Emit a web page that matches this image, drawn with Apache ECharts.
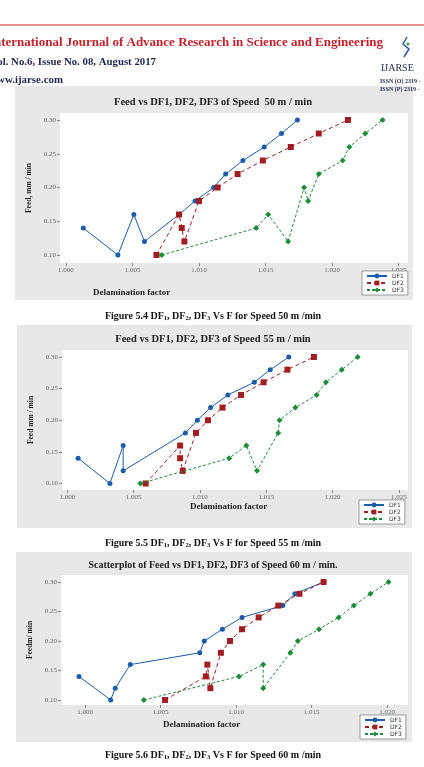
<!DOCTYPE html>
<html>
<head>
<meta charset="utf-8">
<script src="https://cdn.jsdelivr.net/npm/echarts@6/dist/echarts.min.js"></script>
<style>
  html, body { margin: 0; padding: 0; background: #fff; }
  #main { width: 424px; height: 767px; }
</style>
</head>
<body>
<div id="main"></div>
<script>
// ---- data ----
const seriesNames = ['DF1', 'DF2', 'DF3']

// Speed 50 m/min
const df1_50 = [1.0013, 1.0039, 1.0051, 1.0059, 1.0085, 1.0097, 1.0111, 1.0120, 1.0133, 1.0149, 1.0162, 1.0174]
const feed1_50 = [0.14, 0.10, 0.16, 0.12, 0.16, 0.18, 0.20, 0.22, 0.24, 0.26, 0.28, 0.30]
const df2_50 = [1.0068, 1.0085, 1.0087, 1.0089, 1.0100, 1.0114, 1.0129, 1.0148, 1.0169, 1.0190, 1.0212]
const feed2_50 = [0.10, 0.16, 0.14, 0.12, 0.18, 0.20, 0.22, 0.24, 0.26, 0.28, 0.30]
const df3_50 = [1.0072, 1.0143, 1.0152, 1.0167, 1.0179, 1.0182, 1.0190, 1.0208, 1.0213, 1.0225, 1.0238]
const feed3_50 = [0.10, 0.14, 0.16, 0.12, 0.20, 0.18, 0.22, 0.24, 0.26, 0.28, 0.30]

// Speed 55 m/min
const df1_55 = [1.0008, 1.0032, 1.0042, 1.0042, 1.0089, 1.0098, 1.0108, 1.0121, 1.0141, 1.0153, 1.0167]
const feed1_55 = [0.14, 0.10, 0.16, 0.12, 0.18, 0.20, 0.22, 0.24, 0.26, 0.28, 0.30]
const df2_55 = [1.0059, 1.0085, 1.0085, 1.0087, 1.0097, 1.0106, 1.0117, 1.0131, 1.0148, 1.0166, 1.0186]
const feed2_55 = [0.10, 0.16, 0.14, 0.12, 0.18, 0.20, 0.22, 0.24, 0.26, 0.28, 0.30]
const df3_55 = [1.0055, 1.0122, 1.0135, 1.0143, 1.0159, 1.0160, 1.0172, 1.0188, 1.0195, 1.0207, 1.0219]
const feed3_55 = [0.10, 0.14, 0.16, 0.12, 0.18, 0.20, 0.22, 0.24, 0.26, 0.28, 0.30]

// Speed 60 m/min
const df1_60 = [0.9996, 1.0017, 1.0020, 1.0030, 1.0076, 1.0079, 1.0091, 1.0104, 1.0131, 1.0139, 1.0158]
const feed1_60 = [0.14, 0.10, 0.12, 0.16, 0.18, 0.20, 0.22, 0.24, 0.26, 0.28, 0.30]
const df2_60 = [1.0053, 1.0080, 1.0081, 1.0083, 1.0090, 1.0096, 1.0104, 1.0115, 1.0128, 1.0142, 1.0158]
const feed2_60 = [0.10, 0.14, 0.16, 0.12, 0.18, 0.20, 0.22, 0.24, 0.26, 0.28, 0.30]
const df3_60 = [1.0039, 1.0102, 1.0118, 1.0118, 1.0136, 1.0141, 1.0155, 1.0168, 1.0178, 1.0189, 1.0201]
const feed3_60 = [0.10, 0.14, 0.16, 0.12, 0.18, 0.20, 0.22, 0.24, 0.26, 0.28, 0.30]

// tick labels
const xTicksA = [1.000, 1.005, 1.010, 1.015, 1.020, 1.025]
const xTicksB = [1.000, 1.005, 1.010, 1.015, 1.020]
const yTicks = [0.10, 0.15, 0.20, 0.25, 0.30]

// ---- styles ----
const serif = '"Liberation Serif", "DejaVu Serif", serif'
const colors = ['#1b5ca8', '#a01d22', '#1d8c37']
const symbols = ['circle', 'rect', 'diamond']
const symbolSizes = [5, 6, 6]
const lineTypes = ['solid', [4, 3], [3, 2]]

function makeSeries(xs, ys, k, idx) {
  return {
    name: seriesNames[k],
    type: 'line',
    xAxisIndex: idx,
    yAxisIndex: idx,
    data: xs.map((x, i) => [x, ys[i]]),
    symbol: symbols[k],
    symbolSize: symbolSizes[k],
    showSymbol: true,
    itemStyle: { color: colors[k] },
    lineStyle: { color: colors[k], width: 1, type: lineTypes[k] },
    z: 2 + k
  }
}

function xAxis(idx, min, max, ticks) {
  return {
    gridIndex: idx, type: 'value', min: min, max: max,
    axisLine: { show: false },
    splitLine: { show: false },
    axisTick: { show: true, length: 3, lineStyle: { color: '#888' }, customValues: ticks },
    axisLabel: {
      customValues: ticks, formatter: v => v.toFixed(3),
      fontSize: 7, color: '#666', fontFamily: serif, margin: 4
    }
  }
}

function yAxis(idx, min, max, name, gap) {
  return {
    gridIndex: idx, type: 'value', min: min, max: max,
    name: name, nameLocation: 'middle', nameGap: gap,
    nameTextStyle: { fontFamily: serif, fontWeight: 'bold', fontSize: 7.5, color: '#222' },
    axisLine: { show: false },
    splitLine: { show: false },
    axisTick: { show: true, length: 3, lineStyle: { color: '#888' }, customValues: yTicks },
    axisLabel: {
      customValues: yTicks, formatter: v => v.toFixed(2),
      fontSize: 7, color: '#666', fontFamily: serif, margin: 4
    }
  }
}

function legend(left, top) {
  return {
    orient: 'vertical', left: left, top: top,
    data: seriesNames,
    backgroundColor: '#fff', borderColor: '#999', borderWidth: 1,
    padding: [2, 4, 2, 4], itemGap: 1, itemWidth: 20, itemHeight: 6,
    textStyle: { fontSize: 6, color: '#333', fontFamily: '"DejaVu Sans", sans-serif' }
  }
}

function txt(x, y, text, font, fill, align, extra) {
  return Object.assign({
    type: 'text', x: x, y: y,
    style: {
      text: text, font: font, fill: fill,
      align: align || 'center', verticalAlign: 'middle',
      textAlign: align || 'center', textVerticalAlign: 'middle'
    }
  }, extra || {})
}

function caption(y, text) {
  return {
    type: 'text', x: 213, y: y,
    style: {
      text: text, font: 'bold 10px ' + serif, fill: '#111',
      align: 'center', verticalAlign: 'middle',
      textAlign: 'center', textVerticalAlign: 'middle',
      rich: {
        b: { fontSize: 10, fontWeight: 'bold', fontFamily: serif, color: '#111' },
        s: { fontSize: 6.5, fontWeight: 'bold', fontFamily: serif, color: '#111', padding: [5, 0, 0, 0] }
      }
    }
  }
}

const capText = s =>
  '{b|Figure ' + s + ' DF}{s|1}{b|, DF}{s|2}{b|, DF}{s|3}{b| Vs F for Speed }'

const chart = echarts.init(document.getElementById('main'), null, { renderer: 'canvas' })

chart.setOption({
  animation: false,
  backgroundColor: '#fff',
  grid: [
    { left: 60, top: 113, width: 348, height: 150, show: true, backgroundColor: '#fff', borderWidth: 0 },
    { left: 62, top: 350, width: 346, height: 140, show: true, backgroundColor: '#fff', borderWidth: 0 },
    { left: 61, top: 575, width: 347, height: 130, show: true, backgroundColor: '#fff', borderWidth: 0 }
  ],
  xAxis: [
    xAxis(0, 0.99955, 1.02571, xTicksA),
    xAxis(1, 0.999585, 1.025698, xTicksA),
    xAxis(2, 0.99841, 1.02139, xTicksB)
  ],
  yAxis: [
    yAxis(0, 0.08815, 0.31037, 'Feed, mm / min', 23),
    yAxis(1, 0.08972, 0.31107, 'Feed mm / min', 25),
    yAxis(2, 0.09153, 0.31186, 'Feedm/ min', 24)
  ],
  legend: [legend(362, 271), legend(359, 500), legend(360, 715)],
  series: [
    makeSeries(df1_50, feed1_50, 0, 0),
    makeSeries(df2_50, feed2_50, 1, 0),
    makeSeries(df3_50, feed3_50, 2, 0),
    makeSeries(df1_55, feed1_55, 0, 1),
    makeSeries(df2_55, feed2_55, 1, 1),
    makeSeries(df3_55, feed3_55, 2, 1),
    makeSeries(df1_60, feed1_60, 0, 2),
    makeSeries(df2_60, feed2_60, 1, 2),
    makeSeries(df3_60, feed3_60, 2, 2)
  ],
  graphic: [
    // grey figure panels
    { type: 'rect', z: -10, shape: { x: 15, y: 86, width: 398, height: 214 }, style: { fill: '#e8e8e8' } },
    { type: 'rect', z: -10, shape: { x: 17, y: 325, width: 395, height: 203 }, style: { fill: '#e8e8e8' } },
    { type: 'rect', z: -10, shape: { x: 16, y: 552, width: 396, height: 190 }, style: { fill: '#e8e8e8' } },
    // journal header
    { type: 'line', shape: { x1: 0, y1: 25, x2: 424, y2: 25 }, style: { stroke: '#df6b6b', lineWidth: 1.5 } },
    txt(383, 43, 'International Journal of Advance Research in Science and Engineering', 'bold 13px ' + serif, '#c0232b', 'right'),
    txt(156, 62, 'Vol. No.6, Issue No. 08, August 2017', 'bold 10.8px ' + serif, '#1c2650', 'right'),
    txt(63, 80, 'www.ijarse.com', 'bold 10.9px ' + serif, '#1c2650', 'right'),
    { type: 'polyline', shape: { points: [[407, 37], [403, 44], [409, 49], [404, 57]] }, style: { stroke: '#2a5aa8', lineWidth: 1.5, fill: null } },
    { type: 'circle', shape: { cx: 408, cy: 44, r: 1.5 }, style: { fill: '#3a9a4a' } },
    txt(381, 68, 'IJARSE', '10px ' + serif, '#1c2650', 'left'),
    txt(380, 81, 'ISSN (O) 2319 -', 'bold 6px ' + serif, '#1c2650', 'left'),
    txt(380, 89, 'ISSN (P) 2319 -', 'bold 6px ' + serif, '#1c2650', 'left'),
    // chart titles
    txt(213, 102, 'Feed vs DF1, DF2, DF3 of Speed  50 m / min', 'bold 10.5px ' + serif, '#222'),
    txt(213, 339, 'Feed vs DF1, DF2, DF3 of Speed 55 m / min', 'bold 10.5px ' + serif, '#222'),
    txt(213, 565, 'Scatterplot of Feed vs DF1, DF2, DF3 of Speed 60 m / min.', 'bold 10px ' + serif, '#222'),
    // x axis names
    txt(93, 293, 'Delamination factor', 'bold 9px ' + serif, '#222', 'left'),
    txt(190, 507, 'Delamination factor', 'bold 9px ' + serif, '#222', 'left'),
    txt(163, 725, 'Delamination factor', 'bold 9px ' + serif, '#222', 'left'),
    // figure captions
    caption(316, capText('5.4') + '{b|50 m /min}'),
    caption(543, capText('5.5') + '{b|55 m /min}'),
    caption(755, capText('5.6') + '{b|60 m /min}')
  ]
})
</script>
</body>
</html>
